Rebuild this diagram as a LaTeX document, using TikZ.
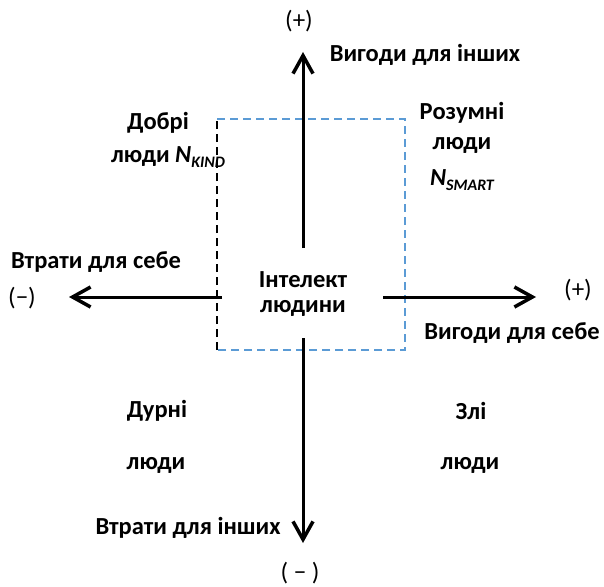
\documentclass[tikz,border=0pt]{standalone}
\usepackage{fontspec}
\setmainfont{Carlito}
\usetikzlibrary{arrows.meta}
\definecolor{boxblue}{HTML}{5B9BD5}
\tikzset{
  lbl/.style={font=\bfseries\fontsize{24.5}{28}\selectfont, inner sep=0pt, align=center},
  sgn/.style={font=\fontsize{25}{28}\selectfont, inner sep=0pt},
  axis/.style={line width=3pt, -{Straight Barb[length=18pt,width=20pt,line width=3.5pt]}},
  bdash/.style={draw=boxblue, line width=1.2pt, dash pattern=on 8pt off 5pt},
  kdash/.style={draw=black, line width=1.2pt, dash pattern=on 8pt off 5pt}
}
\newcommand{\subsc}[1]{\raisebox{-0.4ex}{\fontsize{16}{18}\selectfont #1}}
\begin{document}
\begin{tikzpicture}[x=1pt,y=-1pt]
\useasboundingbox (0,0) rectangle (604,586);
% dashed box
\coordinate (bl) at (217,350);
\coordinate (tl) at (217,119);
\coordinate (tr) at (405,119);
\coordinate (br) at (405,350);
\draw[kdash] (bl) -- (tl);
\draw[bdash] (tl) -- (tr) -- (br) -- (bl);
% axes
\coordinate (upS) at (303,248);
\coordinate (upE) at (303,52);
\coordinate (dnS) at (303,338);
\coordinate (dnE) at (303,543);
\coordinate (lfS) at (222,297);
\coordinate (lfE) at (69,297);
\coordinate (rtS) at (383,297);
\coordinate (rtE) at (536,297);
\draw[axis] (upS) -- (upE);
\draw[axis] (dnS) -- (dnE);
\draw[axis] (lfS) -- (lfE);
\draw[axis] (rtS) -- (rtE);
% labels
\node[sgn] (plusT) at (299,21) {(+)};
\node[lbl] (benOth) at (425,55) {Вигоди для інших};
\node[lbl] (kind1) at (158,123) {Добрі};
\node[lbl] (kind2) at (168,157) {люди \textit{N\subsc{KIND}}};
\node[lbl] (smart1) at (462,113) {Розумні};
\node[lbl] (smart2) at (462,145) {люди};
\node[lbl] (smart3) at (462,180) {\textit{N\subsc{SMART}}};
\node[lbl] (lossSelf) at (96,262) {Втрати для себе};
\node[sgn] (minusL) at (22,298) {(−)};
\node[sgn] (plusR) at (578,290) {(+)};
\node[lbl] (benSelf) at (512,333) {Вигоди для себе};
\node[lbl] (intel1) at (303,280) {Інтелект};
\node[lbl] (intel2) at (303,308) {людини};
\node[lbl] (fool1) at (157,411) {Дурні};
\node[lbl] (fool2) at (156,465) {люди};
\node[lbl] (evil1) at (471,411) {Злі};
\node[lbl] (evil2) at (470,465) {люди};
\node[lbl] (lossOth) at (188,528) {Втрати для інших};
\node[sgn] (minusB) at (300,573) {( − )};
\end{tikzpicture}
\end{document}
